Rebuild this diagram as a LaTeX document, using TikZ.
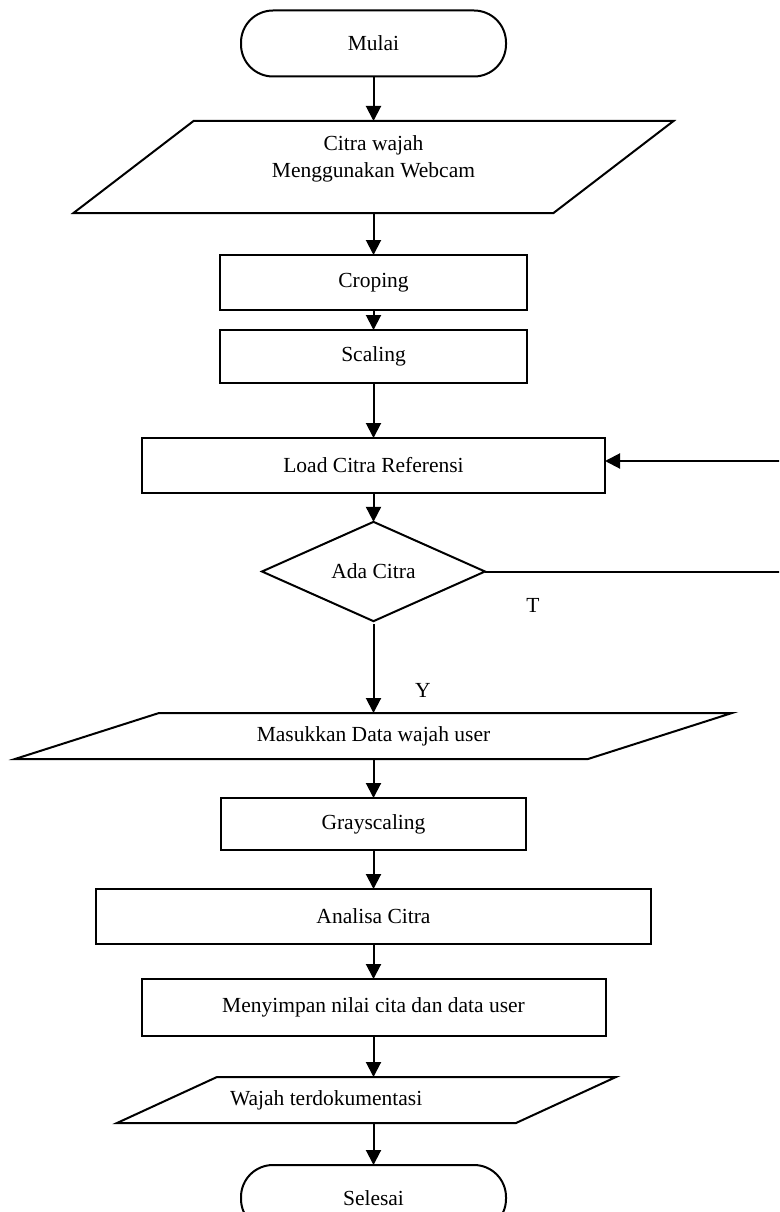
\documentclass[tikz,border=0pt]{standalone}
\usepackage{fontspec}
\setmainfont{Liberation Serif}
\usetikzlibrary{arrows.meta,calc,shapes.geometric}

\tikzset{
  txt/.style={font=\fontsize{21.5}{27}\selectfont, inner sep=0pt, outer sep=0pt},
  shapeline/.style={draw, line width=2pt},
  terminal/.style={txt, shapeline, rounded corners=32pt, minimum width=265pt, minimum height=66pt},
  procbox/.style 2 args={txt, shapeline, minimum width=#1, minimum height=#2},
  iobox/.style 2 args={txt, minimum width=#1, minimum height=#2},
  decision/.style={txt, shapeline, diamond, minimum width=223pt, minimum height=89pt},
  flow/.style={line width=2pt, -{Triangle[length=15pt,width=15pt]}},
  plain/.style={line width=2pt, line join=miter},
}

% slanted input/output outline around an (invisible) rectangular node
\newcommand\ioshape[2]{%
  \draw[plain] ($(#1.north west)+(#2,0)$) -- ($(#1.north east)+(#2,0)$)
    -- ($(#1.south east)-(#2,0)$) -- ($(#1.south west)-(#2,0)$) -- cycle;}

\begin{document}
\begin{tikzpicture}[x=1pt,y=-1pt]
  \useasboundingbox (0,0) rectangle (779,1212);
  \clip (0,0) rectangle (779,1212);
  \fill[white] (0,0) rectangle (779,1212);

  \node[terminal] (mulai) at (373.5,43.5) {Mulai};

  \node[iobox={480pt}{92pt}] (p1) at (373.5,167) {};
  \ioshape{p1}{60}
  \node[txt, align=center] (p1txt) at (373.5,158.5) {Citra wajah\\Menggunakan Webcam};

  \node[procbox={307pt}{55pt}] (crop) at (373.5,282.5) {Croping};
  \node[procbox={307pt}{53pt}] (scale) at (373.5,356.5) {Scaling};
  \node[procbox={463pt}{55pt}] (load) at (373.5,465.5) {Load Citra Referensi};
  \node[decision] (ada) at (373.5,571.5) {Ada Citra};

  \node[iobox={573pt}{46pt}] (p2) at (373.5,736) {Masukkan Data wajah user};
  \ioshape{p2}{72}

  \node[procbox={305pt}{52pt}] (gray) at (373.5,824) {Grayscaling};
  \node[procbox={555pt}{55pt}] (anal) at (373.5,916.5) {Analisa Citra};
  \node[procbox={464pt}{57pt}] (simpan) at (373.5,1007.5) {Menyimpan nilai cita dan data user};

  \node[iobox={399pt}{46pt}] (p3) at (366.5,1100) {};
  \ioshape{p3}{50}
  \node[txt, anchor=west] (p3txt) at (230,1100) {Wajah terdokumentasi};

  \node[terminal] (selesai) at (373.5,1198) {Selesai};

  \node[txt] (lblT) at (533,605) {T};
  \node[txt] (lblY) at (423,690) {Y};

  % main flow
  \draw[flow] (mulai.south) -- (p1.north);
  \draw[flow] (p1.south) -- (crop.north);
  \draw[flow] (crop.south) -- (scale.north);
  \draw[flow] (scale.south) -- (load.north);
  \draw[flow] (load.south) -- (ada.north);
  \draw[flow, shorten <=3pt] (ada.south) -- (p2.north);
  \draw[flow] (p2.south) -- (gray.north);
  \draw[flow] (gray.south) -- (anal.north);
  \draw[flow] (anal.south) -- (simpan.north);
  \draw[flow] (simpan.south) -- (simpan.south |- p3.north);
  \draw[flow] (p3.south -| selesai.north) -- (selesai.north);

  % "T" branch loops back to the reference loading step
  \coordinate (loopR) at (790,461);
  \draw[flow] (ada.east) -- (ada.east -| loopR) -- (loopR) -- (loopR -| load.east);
\end{tikzpicture}
\end{document}
